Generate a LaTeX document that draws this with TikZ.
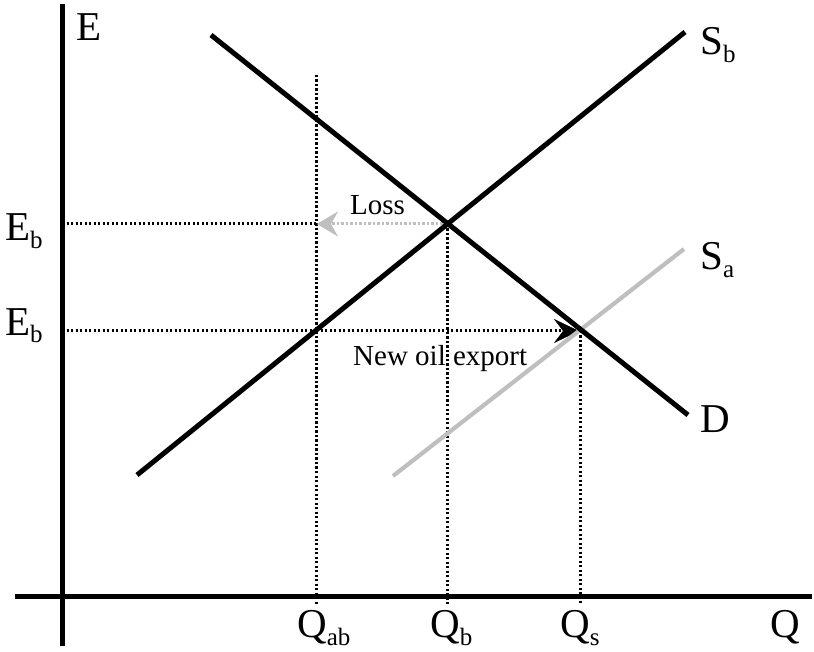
\documentclass[tikz,border=0pt]{standalone}
\usepackage{fontspec}
\setmainfont{Liberation Serif}
\usetikzlibrary{arrows.meta}
\newcommand\mysub[1]{\raisebox{-8pt}{\fontsize{25}{25}\selectfont #1}}
\begin{document}
\begin{tikzpicture}[x=1pt,y=-1pt,
  axis/.style={line width=5pt},
  curve/.style={line width=5pt},
  graycurve/.style={line width=4.2pt,draw=black!25},
  dotline/.style={line width=3pt,dash pattern=on 2.2pt off 2.3pt},
  lbl/.style={font=\fontsize{41}{41}\selectfont,inner sep=0pt,anchor=base west},
  small/.style={font=\fontsize{29}{29}\selectfont,inner sep=0pt,anchor=base west}]
\useasboundingbox (0,0) rectangle (814,652);
% coordinates
\coordinate (ytop) at (62,4);
\coordinate (ybot) at (62,646);
\coordinate (xl) at (15,596);
\coordinate (xr) at (812,596);
\coordinate (sb1) at (137,475);
\coordinate (sb2) at (685,32);
\coordinate (d1) at (211,35);
\coordinate (d2) at (688,415);
\coordinate (sa1) at (393,476);
\coordinate (sa2) at (684,249);
\coordinate (eb1) at (62,224);
\coordinate (eb2) at (62,331);
\coordinate (qabtop) at (316,75);
\coordinate (qabbot) at (316,604);
\coordinate (qabup) at (316,224);
\coordinate (qablo) at (316,331);
\coordinate (xb) at (447,224);
\coordinate (qbbot) at (447,604);
\coordinate (xs) at (580,331);
\coordinate (qsbot) at (580,604);
\coordinate (lossend) at (317,224);
\coordinate (expend) at (579,331);
% dotted guides
\draw[dotline] (qabtop) -- (qabbot);
\draw[dotline] (xb) -- (qbbot);
\draw[dotline] (xs) -- (qsbot);
\draw[dotline] (eb1) -- (qabup);
\draw[dotline] (eb2) -- (qablo);
% arrows
\draw[dotline,draw=black!25,-{Stealth[length=21pt,width=25pt,inset=7pt,fill=black!25,line width=0.5pt]}] (xb) -- (lossend);
\draw[dotline,-{Stealth[length=25pt,width=24pt,inset=9pt,line width=0.5pt]}] (qablo) -- (expend);
% curves
\draw[graycurve] (sa1) -- (sa2);
\draw[curve] (sb1) -- (sb2);
\draw[curve] (d1) -- (d2);
% axes
\draw[axis] (ytop) -- (ybot);
\draw[axis] (xl) -- (xr);
% labels
\node[lbl] (lE) at (76,41) {E};
\node[lbl] (lEb1) at (5,241) {E\mysub{b}};
\node[lbl] (lEb2) at (5,335) {E\mysub{b}};
\node[lbl] (lSb) at (700,55) {S\mysub{b}};
\node[lbl] (lSa) at (700,270) {S\mysub{a}};
\node[lbl] (lD) at (700,432) {D};
\node[lbl] (lQab) at (297,637) {Q\mysub{ab}};
\node[lbl] (lQb) at (430,637) {Q\mysub{b}};
\node[lbl] (lQs) at (560,637) {Q\mysub{s}};
\node[lbl] (lQ) at (770,637) {Q};
\node[small] (lLoss) at (350,215) {Loss};
\node[small] (lExp) at (353,365) {New oil export};
\end{tikzpicture}
\end{document}
